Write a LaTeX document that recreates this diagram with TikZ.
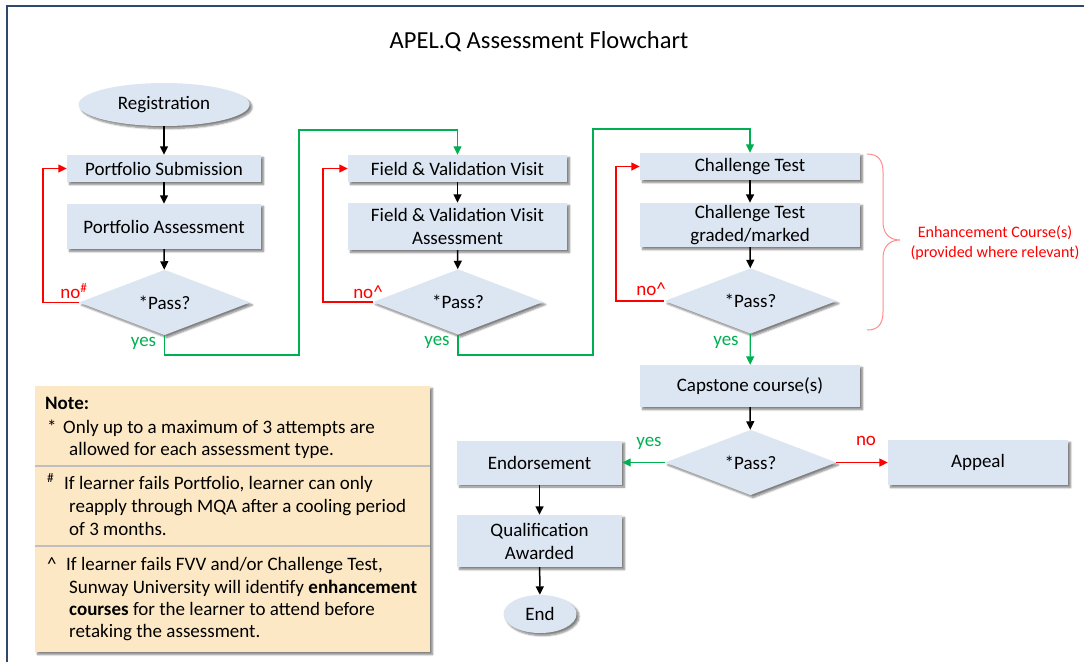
\documentclass[tikz,border=0pt]{standalone}
\usepackage{fontspec}
\setmainfont{Carlito}
\usetikzlibrary{shapes.geometric,arrows.meta,shadows.blur}

\definecolor{boxfill}{RGB}{220,230,242}
\definecolor{notefill}{RGB}{252,232,196}
\definecolor{okgreen}{RGB}{0,176,80}
\definecolor{failred}{RGB}{255,0,0}
\definecolor{bracecol}{RGB}{255,140,140}
\definecolor{framecol}{RGB}{47,72,110}

\tikzset{
  every node/.style={font=\fontsize{19}{23}\selectfont},
  boxshadow/.style={blur shadow={shadow xshift=2.5pt,shadow yshift=-2.5pt,shadow blur steps=6,shadow opacity=50}},
  proc/.style={rectangle,fill=boxfill,align=center,inner sep=0pt,boxshadow},
  decision/.style={diamond,fill=boxfill,inner sep=0pt,minimum width=171pt,minimum height=59pt,boxshadow},
  terminal/.style={ellipse,fill=boxfill,inner sep=0pt,boxshadow},
  flow/.style={line width=1.5pt,-{Triangle[length=8.5pt,width=8pt]}},
  yesline/.style={flow,draw=okgreen,line width=1.3pt},
  noline/.style={flow,draw=failred},
  yeslab/.style={text=okgreen,inner sep=0pt},
  nolab/.style={text=failred,inner sep=0pt},
  notetext/.style={anchor=base west,inner sep=0pt},
  notebox/.style={rectangle,fill=notefill,inner sep=0pt,boxshadow},
  sepline/.style={draw=black!25,line width=1.2pt},
}

\begin{document}
\begin{tikzpicture}[x=1pt,y=-1pt]
\useasboundingbox (0,0) rectangle (1084,662);

% page frame
\draw[framecol,line width=2pt] (7,662) -- (7,6) -- (1084,6);

% title
\node[font=\fontsize{24.5}{28}\selectfont] (title) at (539,42) {APEL.Q Assessment Flowchart};

% column 1: portfolio
\node[terminal,minimum width=171pt,minimum height=43pt] (reg) at (164,104.5) {Registration};
\node[proc,minimum width=194pt,minimum height=27pt] (ps) at (164,168.5) {Portfolio Submission};
\node[proc,minimum width=194pt,minimum height=45pt] (pa) at (164,226.5) {Portfolio Assessment};
\node[decision] (d1) at (164.5,302.5) {*Pass?};

% column 2: field & validation visit
\node[proc,minimum width=219pt,minimum height=27pt] (fvv) at (457.5,168.5) {Field \& Validation Visit};
\node[proc,minimum width=219pt,minimum height=47pt] (fva) at (457.5,226.5) {Field \& Validation Visit\\Assessment};
\node[decision,minimum width=170pt,minimum height=58pt] (d2) at (458,302) {*Pass?};

% column 3: challenge test
\node[proc,minimum width=220pt,minimum height=27pt] (ct) at (750,166.5) {Challenge Test};
\node[proc,minimum width=220pt,minimum height=44pt] (ctg) at (750,225) {Challenge Test\\graded/marked};
\node[decision,minimum width=172pt,minimum height=57pt] (d3) at (750.5,301) {*Pass?};

% capstone and outcome
\node[proc,minimum width=220pt,minimum height=42pt] (cap) at (750,386) {Capstone course(s)};
\node[decision] (d4) at (750.5,462.5) {*Pass?};
\node[proc,minimum width=165pt,minimum height=44pt] (endo) at (539.5,462.5) {Endorsement};
\node[proc,minimum width=165pt,minimum height=52pt] (qual) at (539.5,541) {Qualification\\Awarded};
\node[terminal,minimum width=73pt,minimum height=38pt] (fin) at (540,614) {End};
\node[proc,minimum width=180pt,minimum height=45pt] (app) at (978,462.5) {Appeal};

% main flow
\draw[flow] (reg) -- (ps);
\draw[flow] (ps) -- (pa);
\draw[flow] (pa) -- (d1);
\draw[flow] (fvv) -- (fva);
\draw[flow] (fva) -- (d2);
\draw[flow] (ct) -- (ctg);
\draw[flow] (ctg) -- (d3);
\draw[flow] (cap) -- (d4);
\draw[flow] (endo) -- (qual);
\draw[flow] (qual) -- (fin);

% retry loops
\draw[noline] (d1.west) -| ([xshift=-24pt]ps.west) -- (ps.west);
\draw[noline] (d2.west) -| ([xshift=-25pt]fvv.west) -- (fvv.west);
\draw[noline] (d3.west) -| ([xshift=-24pt]ct.west) -- (ct.west);

% pass routes
\coordinate (g1a) at (299,355);
\coordinate (g1b) at (299,130);
\coordinate (g2a) at (593,355);
\coordinate (g2b) at (593,129);
\draw[yesline] (d1.south) |- (g1a) -- (g1b) -| (fvv.north);
\draw[yesline] (d2.south) |- (g2a) -- (g2b) -| (ct.north);
\draw[yesline] (d3) -- (cap);
\draw[yesline] (d4.west) -- (endo.east);
\draw[noline] (d4.east) -- (app.west);

% branch labels
\node[nolab] (l1) at (74,291) {no\textsuperscript{\#}};
\node[yeslab] (l2) at (143.5,343) {yes};
\node[nolab] (l3) at (368,292) {no\textasciicircum};
\node[yeslab] (l4) at (437,342) {yes};
\node[nolab] (l5) at (651,289) {no\textasciicircum};
\node[yeslab] (l6) at (726,342) {yes};
\node[yeslab] (l7) at (649,443) {yes};
\node[nolab] (l8) at (866,441) {no};

% enhancement course brace
\draw[bracecol,line width=1pt] (867,154) .. controls (878,154) and (883,160) .. (883,172)
  -- (883,222) .. controls (883,234) and (890,240) .. (900,240)
  .. controls (890,240) and (883,246) .. (883,258)
  -- (883,312) .. controls (883,324) and (878,330) .. (867,330);
\node[text=failred,align=center,font=\fontsize{16}{20}\selectfont] (enh) at (995,243) {Enhancement Course(s)\\(provided where relevant)};

% notes
\node[notebox,minimum width=395pt,minimum height=266pt] (note) at (232.5,519) {};
\coordinate (s1) at (0,466);
\coordinate (s2) at (0,546);
\draw[sepline] (note.west |- s1) -- (note.east |- s1);
\draw[sepline] (note.west |- s2) -- (note.east |- s2);

\node[notetext] (n0) at (45,409) {\textbf{Note:}};
\node[notetext] (b1) at (47,433) {*};
\node[notetext] (n1) at (63,433) {Only up to a maximum of 3 attempts are};
\node[notetext] (n2) at (69,455) {allowed for each assessment type.};
\node[notetext] (b2) at (47,489) {\textsuperscript{\#}};
\node[notetext] (n3) at (64,489) {If learner fails Portfolio, learner can only};
\node[notetext] (n4) at (69,512) {reapply through MQA after a cooling period};
\node[notetext] (n5) at (69,535) {of 3 months.};
\node[notetext] (b3) at (47,570) {\textasciicircum};
\node[notetext] (n6) at (66,570) {If learner fails FVV and/or Challenge Test,};
\node[notetext] (n7) at (69,593) {Sunway University will identify \textbf{enhancement}};
\node[notetext] (n8) at (69,615) {\textbf{courses} for the learner to attend before};
\node[notetext] (n9) at (69,637) {retaking the assessment.};
\end{tikzpicture}
\end{document}
